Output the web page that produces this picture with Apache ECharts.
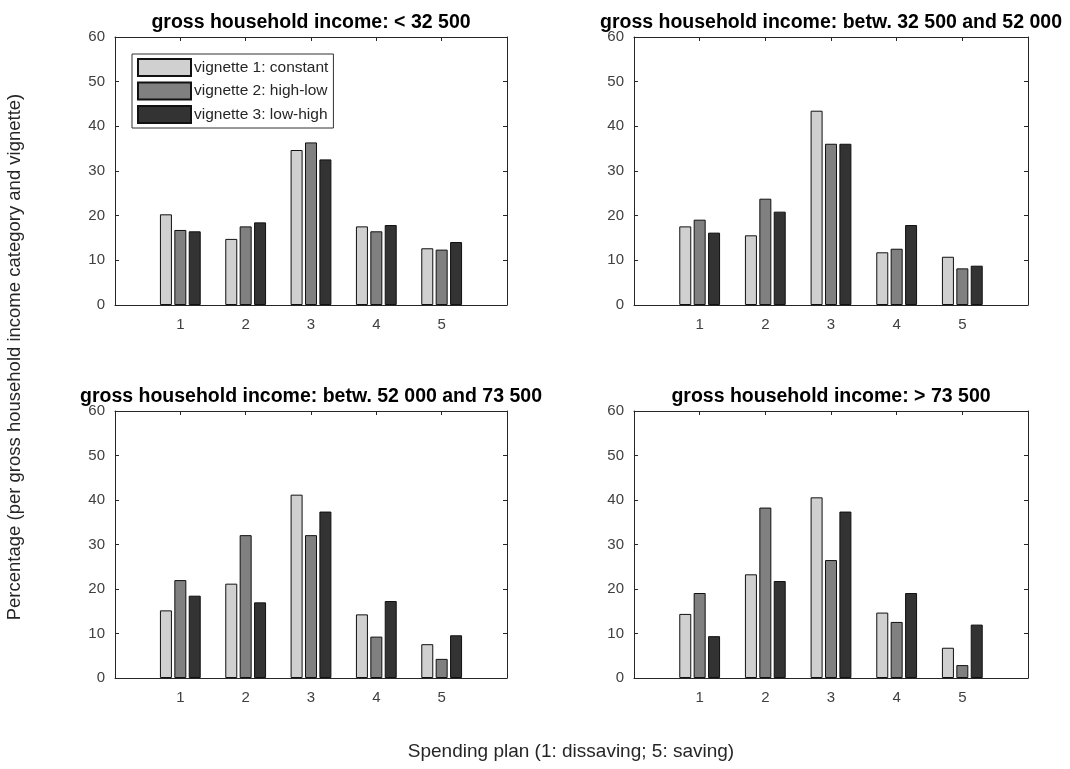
<!DOCTYPE html>
<html>
<head>
<meta charset="utf-8">
<script src="https://cdn.jsdelivr.net/npm/echarts@6/dist/echarts.min.js"></script>
<style>html,body{margin:0;padding:0;background:#fff}#c{width:1070px;height:769px}</style>
</head>
<body>
<div id="c"></div>
<script>
const categories = [1, 2, 3, 4, 5];
const seriesNames = ['vignette 1: constant', 'vignette 2: high-low', 'vignette 3: low-high'];
const panelTitles = [
  'gross household income: < 32 500',
  'gross household income: betw. 32 500 and 52 000',
  'gross household income: betw. 52 000 and 73 500',
  'gross household income: > 73 500'
];
// values per panel: [vignette1, vignette2, vignette3]
const panel1 = [[20.3, 14.8, 34.7, 17.6, 12.7], [16.8, 17.6, 36.4, 16.5, 12.4], [16.5, 18.5, 32.6, 17.9, 14.1]];
const panel2 = [[17.6, 15.6, 43.5, 11.8, 10.8], [19.1, 23.8, 36.1, 12.6, 8.2], [16.2, 20.9, 36.1, 17.9, 8.8]];
const panel3 = [[15.2, 21.2, 41.2, 14.3, 7.6], [22.0, 32.1, 32.1, 9.3, 4.3], [18.5, 17.0, 37.4, 17.3, 9.6]];
const panel4 = [[14.4, 23.3, 40.6, 14.7, 6.8], [19.1, 38.3, 26.5, 12.6, 2.9], [9.4, 21.8, 37.4, 19.1, 12.0]];
const yTicks = [0, 10, 20, 30, 40, 50, 60];
const xLabel = 'Spending plan (1: dissaving; 5: saving)';
const yLabel = 'Percentage (per gross household income category and vignette)';

const panels = [panel1, panel2, panel3, panel4];
const colors = ['#d0d0d0', '#808080', '#333333'];
const grids = [
  {left: 115, top: 37, width: 392, height: 268},
  {left: 634, top: 37, width: 394, height: 268},
  {left: 115, top: 411, width: 392, height: 267},
  {left: 634, top: 411, width: 394, height: 267}
];
const axisCol = '#262626';
const font = 'Liberation Sans, Arial, sans-serif';

const xAxis = [], yAxis = [], series = [], graphic = [];
grids.forEach((g, i) => {
  xAxis.push({
    type: 'value', gridIndex: i, min: 0, max: 6, interval: 1, position: 'bottom',
    axisLine: {onZero: false, lineStyle: {color: axisCol, width: 1}},
    axisTick: {inside: true, length: 4, lineStyle: {color: axisCol}},
    axisLabel: {color: '#404040', fontSize: 15, fontFamily: font, margin: 12,
      formatter: v => (categories.indexOf(v) >= 0 ? String(v) : '')},
    splitLine: {show: false}
  });
  xAxis.push({
    type: 'value', gridIndex: i, min: 0, max: 6, interval: 1, position: 'top',
    axisLine: {onZero: false, lineStyle: {color: axisCol, width: 1}},
    axisTick: {inside: true, length: 4, lineStyle: {color: axisCol}},
    axisLabel: {show: false}, splitLine: {show: false}
  });
  yAxis.push({
    type: 'value', gridIndex: i, min: yTicks[0], max: yTicks[yTicks.length - 1], interval: 10, position: 'left',
    axisLine: {show: true, onZero: false, lineStyle: {color: axisCol, width: 1}},
    axisTick: {show: true, inside: true, length: 4, lineStyle: {color: axisCol}},
    axisLabel: {color: '#404040', fontSize: 15, fontFamily: font, margin: 10},
    splitLine: {show: false}
  });
  yAxis.push({
    type: 'value', gridIndex: i, min: yTicks[0], max: yTicks[yTicks.length - 1], interval: 10, position: 'right',
    axisLine: {show: true, onZero: false, lineStyle: {color: axisCol, width: 1}},
    axisTick: {show: true, inside: true, length: 4, lineStyle: {color: axisCol}},
    axisLabel: {show: false}, splitLine: {show: false}
  });
  panels[i].forEach((vals, s) => {
    series.push({
      name: seriesNames[s], type: 'bar', xAxisIndex: i * 2, yAxisIndex: i * 2,
      barWidth: 12, barGap: '20%',
      itemStyle: {color: colors[s], borderColor: '#111', borderWidth: 1},
      data: categories.map((c, k) => [c, vals[k]]),
      animation: false, silent: true
    });
  });
  graphic.push({
    type: 'text', x: g.left + g.width / 2, y: g.top - 4,
    style: {text: panelTitles[i], font: 'bold 19.5px ' + font, fill: '#000', textAlign: 'center', textVerticalAlign: 'bottom'}
  });
});
graphic.push({
  type: 'text', x: 571, y: 752,
  style: {text: xLabel, font: '19px ' + font, fill: '#262626', textAlign: 'center', textVerticalAlign: 'middle'}
});
graphic.push({
  type: 'text', x: 15, y: 357, rotation: Math.PI / 2,
  style: {text: yLabel, font: '18.5px ' + font, fill: '#262626', textAlign: 'center', textVerticalAlign: 'middle'}
});

const chart = echarts.init(document.getElementById('c'));
chart.setOption({
  animation: false,
  grid: grids,
  xAxis, yAxis, series, graphic,
  legend: {
    data: seriesNames, orient: 'vertical', left: 132, top: 54,
    itemWidth: 53, itemHeight: 17, itemGap: 4.5, padding: [4, 5, 4, 5],
    borderColor: '#333', borderWidth: 1, backgroundColor: '#fff',
    icon: 'rect', selectedMode: false,
    textStyle: {fontSize: 15.5, lineHeight: 17, fontFamily: font, color: '#262626', padding: [0, 0, 0, -2]}
  }
});
</script>
</body>
</html>
